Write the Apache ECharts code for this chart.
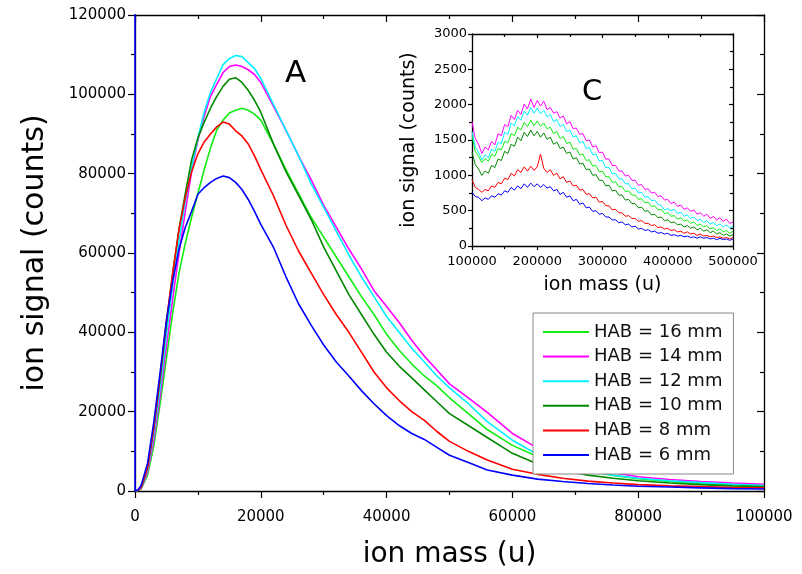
<!DOCTYPE html>
<html><head><meta charset="utf-8">
<script src="https://cdn.jsdelivr.net/npm/echarts@6/dist/echarts.min.js"></script>
<style>html,body{margin:0;padding:0;background:#fff}#c{width:802px;height:574px}</style>
</head><body><div id="c"></div>
<script>
// ---------- main panel (A) ----------
const mass = [0,500,1000,2000,3000,4000,5000,6000,7000,8000,9000,10000,11000,12000,13000,14000,15000,16000,17000,18000,19000,20000,22000,24000,26000,28000,30000,32000,34000,36000,38000,40000,42000,44000,46000,48000,50000,53000,56000,60000,64000,68000,72000,76000,80000,85000,90000,95000,100000];
const hab16 = [0,100,600,4000,11500,22000,33500,45000,55000,62500,69000,75000,81000,86500,91000,93500,95300,96000,96500,96000,95000,93500,87500,81000,75000,69000,64000,59000,54000,49000,44500,39500,35500,32000,29000,26500,23500,19500,15500,11500,8700,6600,5000,3900,3100,2400,1900,1600,1300];
const hab14 = [0,150,700,4800,13000,24000,36500,48500,60000,70500,80500,88500,94500,99500,102500,105500,107000,107400,107000,106200,105000,103000,97000,91000,84500,78500,72000,66500,61000,56000,50500,46500,42500,38000,34000,30500,27000,23500,19800,14500,10800,8300,6000,4600,3600,2900,2400,2000,1700];
const hab12 = [0,200,900,5500,14500,26000,39500,52000,63000,73000,81500,89000,95500,100500,104000,107500,109000,109800,109500,108000,106500,104000,97500,91000,84500,77500,71500,65500,59500,54000,49000,44000,40000,36000,32500,29000,26000,22000,17500,12800,9200,7000,5200,4000,3200,2600,2100,1700,1400];
const hab10 = [0,200,1000,6000,16000,28500,42000,55000,66000,75000,83500,89000,93000,96500,99500,102000,103800,104200,103000,101000,98500,95500,87500,80500,74500,68500,61500,55500,49500,44500,39500,35000,31500,28500,25500,22500,19500,16500,13500,9500,6800,5200,4000,3200,2600,2000,1600,1300,1100];
const hab8  = [0,200,1000,6000,16000,29000,43000,55000,66000,74000,80500,85000,88000,90000,91800,93000,92500,90800,89500,87500,84500,81000,74500,67000,60500,55000,49500,44500,40000,35000,30000,26000,22800,20000,17800,15000,12500,10000,7800,5500,4200,3200,2500,2000,1600,1300,1100,900,800];
const hab6  = [0,300,1500,7000,17500,30000,43000,53000,61000,66500,70500,74800,76500,77800,78800,79400,79000,77800,76000,73500,70500,67200,61500,54000,47200,41800,36800,32500,29000,25300,22000,19000,16500,14500,13000,11000,9000,7200,5300,4000,3000,2400,1900,1500,1200,1000,800,600,500];
const hab6SpikeAtZero = 125000; // blue trace runs off-scale at mass 0

// ---------- inset panel (C) ----------
const insetMassK = [100,105,110,115,120,125,130,135,140,145,150,155,160,165,170,175,180,185,190,195,200,205,210,215,220,225,230,235,240,245,250,255,260,265,270,275,280,285,290,295,300,305,310,315,320,325,330,335,340,345,350,355,360,365,370,375,380,385,390,395,400,405,410,415,420,425,430,435,440,445,450,455,460,465,470,475,480,485,490,495,500];
const in16 = [1560,1340,1270,1180,1240,1200,1300,1270,1380,1360,1480,1460,1590,1560,1680,1640,1750,1690,1780,1700,1770,1690,1740,1660,1680,1590,1620,1520,1550,1450,1470,1370,1380,1290,1300,1210,1220,1130,1140,1050,1060,980,980,900,910,840,840,770,780,720,720,660,670,610,620,560,570,510,520,460,470,420,430,380,400,350,370,320,340,290,310,270,290,240,260,220,240,200,220,180,210];
const in14 = [1760,1520,1440,1310,1400,1360,1480,1430,1590,1560,1720,1690,1850,1790,1920,1860,2010,1940,2080,1960,2060,1980,2050,1930,1960,1880,1900,1810,1840,1730,1760,1660,1670,1580,1590,1490,1500,1400,1420,1320,1330,1230,1230,1140,1140,1060,1060,990,1000,930,930,860,870,800,810,750,760,700,710,650,660,600,620,560,580,520,540,490,510,450,470,420,450,390,420,370,400,350,380,320,340];
const in12 = [1620,1400,1330,1220,1290,1250,1370,1340,1470,1450,1610,1580,1740,1700,1830,1780,1910,1850,1960,1880,1950,1870,1920,1830,1860,1760,1790,1690,1720,1620,1640,1540,1560,1460,1480,1380,1390,1290,1300,1200,1210,1110,1110,1020,1030,950,950,880,880,810,820,750,760,690,700,640,650,590,570,510,530,500,520,460,480,420,440,390,410,360,380,330,360,310,330,290,310,270,300,250,280];
const in10 = [1330,1150,1090,1000,1060,1030,1140,1110,1230,1210,1340,1310,1440,1410,1540,1490,1610,1550,1640,1560,1620,1540,1600,1510,1540,1440,1470,1380,1400,1310,1330,1230,1250,1160,1170,1080,1090,1000,1010,930,930,850,860,780,790,720,720,650,660,600,600,540,550,490,500,440,450,400,410,360,370,330,340,300,310,270,290,250,270,230,250,210,230,190,210,170,190,150,170,140,160];
const in8  = [940,830,800,760,800,780,850,830,900,880,960,940,1030,990,1080,1040,1120,1060,1130,1070,1120,1300,1100,1040,1080,1000,1030,950,980,900,920,850,860,790,800,730,740,680,690,620,630,570,570,510,520,470,470,420,430,390,390,350,360,320,320,290,300,260,270,240,250,220,230,200,210,180,200,170,180,150,170,140,150,130,140,120,130,110,120,100,120];
const in6  = [760,700,690,640,680,660,710,690,740,720,780,760,830,790,850,810,880,830,890,840,880,830,870,820,840,780,800,730,760,690,710,640,660,590,610,540,550,490,500,450,460,410,410,370,370,330,340,300,310,270,280,240,250,220,230,200,210,180,190,170,180,150,160,140,150,130,140,120,130,110,130,110,120,100,110,90,110,90,100,80,100];

const names  = ['HAB = 16 mm','HAB = 14 mm','HAB = 12 mm','HAB = 10 mm','HAB = 8 mm','HAB = 6 mm'];
const colors = ['#11ee11','#ff00ff','#00f0ff','#008800','#ff0000','#0000ff'];
const mainVals  = [hab16,hab14,hab12,hab10,hab8,hab6];
const insetVals = [in16,in14,in12,in10,in8,in6];

const FONT = 'DejaVu Sans';
const pair = (xs, ys) => xs.map((x,i)=>[x, ys[i]]);
const plain = v => String(v);

function axis(o){
  return Object.assign({
    type:'value', splitLine:{show:false}, minorSplitLine:{show:false},
    axisLine:{show:true,onZero:false,lineStyle:{color:'#000',width:1.3}},
    minorTick:{show:true,splitNumber:2,length:o.ml||4,lineStyle:{color:'#000',width:1.2}}
  }, o.base, {
    axisTick:{show:true,inside:!!o.inside,length:o.tl||7,lineStyle:{color:'#000',width:1.2}},
    axisLabel:{show:o.label!==false,fontFamily:FONT,fontSize:o.fs||15,color:'#000',margin:o.margin||8,formatter:plain}
  });
}

const xAxis = [
  axis({base:{gridIndex:0,position:'bottom',min:0,max:100000,interval:20000,name:'ion mass (u)',nameLocation:'middle',nameGap:50,nameTextStyle:{fontFamily:FONT,fontSize:28,color:'#000'}},margin:19}),
  axis({base:{gridIndex:0,position:'top',min:0,max:100000,interval:20000},inside:true,label:false}),
  axis({base:{gridIndex:1,position:'bottom',min:100000,max:500000,interval:100000,name:'ion mass (u)',nameLocation:'middle',nameGap:30,nameTextStyle:{fontFamily:FONT,fontSize:19,color:'#000'}},tl:4,ml:3,fs:13,margin:9}),
  axis({base:{gridIndex:1,position:'top',min:100000,max:500000,interval:100000},tl:4,ml:3,inside:true,label:false})
];
const yAxis = [
  axis({base:{gridIndex:0,position:'left',min:0,max:120000,interval:20000,name:'ion signal (counts)',nameLocation:'middle',nameGap:85,nameRotate:90,nameTextStyle:{fontFamily:FONT,fontSize:30,color:'#000'}},margin:9}),
  axis({base:{gridIndex:0,position:'right',min:0,max:120000,interval:20000},inside:true,label:false}),
  axis({base:{gridIndex:1,position:'left',min:0,max:3000,interval:500,name:'ion signal (counts)',nameLocation:'middle',nameGap:53,nameRotate:90,nameTextStyle:{fontFamily:FONT,fontSize:19,color:'#000'}},tl:4,ml:3,fs:13,margin:5}),
  axis({base:{gridIndex:1,position:'right',min:0,max:3000,interval:500},tl:4,ml:3,inside:true,label:false})
];

const series = [];
names.forEach((n,i)=>{
  let d = pair(mass, mainVals[i]);
  if (i === 5) d = [[0, hab6SpikeAtZero]].concat(d);
  series.push({name:n,type:'line',xAxisIndex:0,yAxisIndex:0,data:d,showSymbol:false,symbol:'none',
    lineStyle:{color:colors[i],width:1.6},itemStyle:{color:colors[i]},clip:true,silent:true,animation:false});
});
names.forEach((n,i)=>{
  series.push({name:n,type:'line',xAxisIndex:2,yAxisIndex:2,data:pair(insetMassK.map(k=>k*1000), insetVals[i]),showSymbol:false,symbol:'none',
    lineStyle:{color:colors[i],width:1},itemStyle:{color:colors[i]},clip:true,silent:true,animation:false});
});

const chart = echarts.init(document.getElementById('c'), null, {renderer:'canvas'});
chart.setOption({
  animation:false,
  backgroundColor:'#fff',
  grid:[
    {left:135,right:38,top:15,bottom:83},
    {left:472,right:69,top:34,bottom:328}
  ],
  xAxis, yAxis, series,
  legend:{
    data:names, orient:'vertical', left:533, top:313, padding:[9,11,9,10],
    backgroundColor:'#fff', borderColor:'#888', borderWidth:1, borderRadius:0,
    icon:'rect', itemWidth:46, itemHeight:2, itemGap:4.6, selectedMode:false,
    textStyle:{fontFamily:FONT,fontSize:18,color:'#111',lineHeight:20}
  },
  graphic:[
    {type:'text',left:285,top:58,style:{text:'A',fontFamily:FONT,fontSize:31,fill:'#000'}},
    {type:'text',left:582,top:78,style:{text:'C',fontFamily:FONT,fontSize:29,fill:'#000'}}
  ]
});
</script></body></html>
